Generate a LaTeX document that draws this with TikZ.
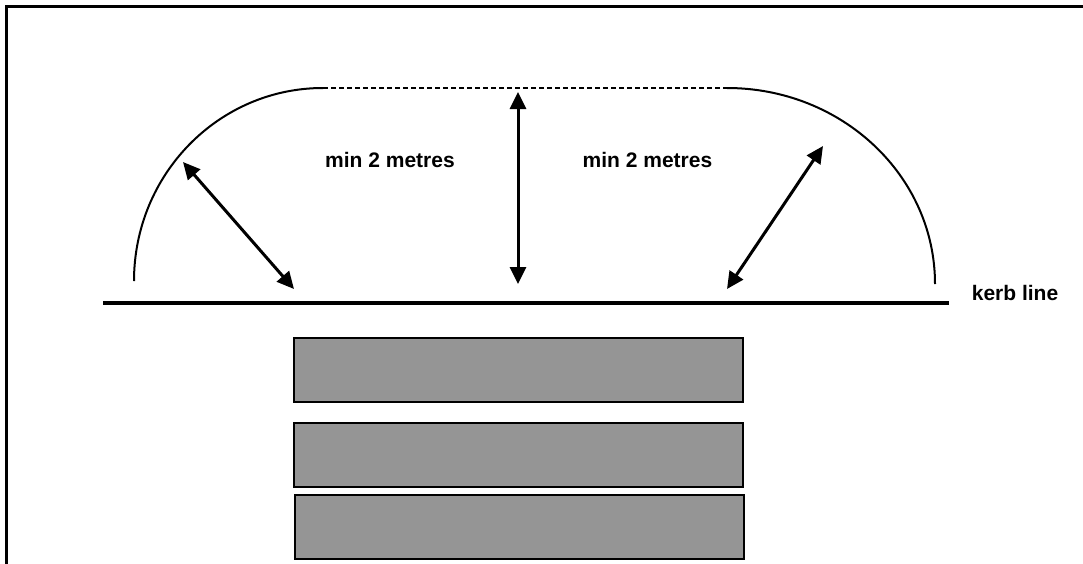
\documentclass[tikz,border=0pt]{standalone}
\usepackage{fontspec}
\setmainfont{Liberation Sans}
\usetikzlibrary{arrows.meta}
\definecolor{slabgray}{HTML}{959595}
\tikzset{
  lbl/.style={font=\fontsize{21}{25}\selectfont\bfseries, inner sep=0pt, anchor=base},
  slab/.style={draw=black, line width=2.4pt, fill=slabgray},
  dimarrow/.style={line width=3pt, {Triangle[length=17pt,width=16pt]}-{Triangle[length=17pt,width=16pt]}},
  curveline/.style={line width=2pt},
}
\begin{document}
\begin{tikzpicture}[x=1pt,y=-1pt]
\useasboundingbox (0,0) rectangle (1083,563);
% frame (left and top edges visible)
\draw[line width=3pt] (6.5,570) -- (6.5,6.5) -- (1090,6.5);
% arcs
\coordinate (la) at (134,281);
\coordinate (lt) at (323,88);
\coordinate (rt) at (727,88);
\coordinate (ra) at (935,284);
\draw[curveline] (la) .. controls (134,174.4) and (218.6,88) .. (lt);
\draw[curveline] (rt) .. controls (841.9,88) and (935,175.7) .. (ra);
\draw[line width=1.8pt, dash pattern=on 5pt off 3pt] (lt) -- (rt);
% kerb line
\coordinate (k1) at (103,303);
\coordinate (k2) at (949,303);
\draw[line width=4.5pt] (k1) -- (k2);
\node[lbl] (kerb) at (1015,300) {kerb line};
% arrows
\coordinate (v1) at (518,92);
\coordinate (v2) at (518,284);
\draw[dimarrow] (v1) -- (v2);
\coordinate (l1) at (183,162);
\coordinate (l2) at (294,289);
\draw[dimarrow] (l1) -- (l2);
\coordinate (r1) at (823,146);
\coordinate (r2) at (727,289);
\draw[dimarrow] (r1) -- (r2);
% labels
\node[lbl] (m1) at (390,167) {min 2 metres};
\node[lbl] (m2) at (647.5,167) {min 2 metres};
% slabs
\draw[slab] (294,338) rectangle (743,402);
\draw[slab] (294,423) rectangle (743,487);
\draw[slab] (295,495) rectangle (744,559);
\end{tikzpicture}
\end{document}
